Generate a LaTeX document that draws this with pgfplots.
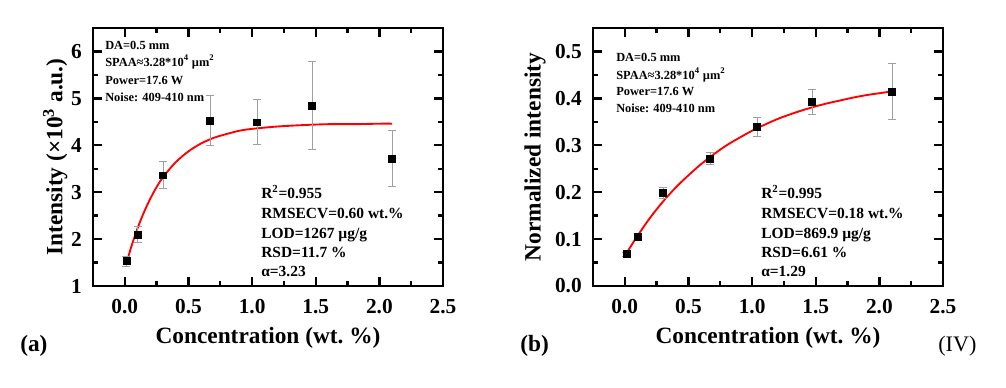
\documentclass[border=0pt]{standalone}
\usepackage{pgfplots}
\pgfplotsset{compat=1.18}
\usepackage{pgfplotstable}
\usepackage{fontspec}
\setmainfont{Liberation Serif}

\pgfplotstableread{
x y e
0.013 1.53 0.11
0.10 2.10 0.17
0.30 3.36 0.29
0.67 4.53 0.53
1.04 4.49 0.48
1.47 4.85 0.94
2.10 3.72 0.60
}\dataA

\pgfplotstableread{
x y e
0.013 0.068 0.004
0.10 0.105 0.004
0.30 0.199 0.012
0.67 0.272 0.012
1.04 0.339 0.021
1.47 0.393 0.027
2.10 0.415 0.059
}\dataB

\pgfplotsset{
 myaxis/.style={
  scale only axis, width=262.5pt, height=193.5pt,
  axis line style={line width=2.1pt},
  tick style={line width=1.8pt, black},
  major tick length=6.75pt, minor tick length=3.4pt,
  tick align=inside,
  xmin=-0.25, xmax=2.5,
  xtick={0,0.5,1,1.5,2,2.5},
  xticklabels={0.0,0.5,1.0,1.5,2.0,2.5},
  minor x tick num=1,
  minor y tick num=1,
  xticklabel style={font=\fontsize{16}{16}\selectfont\bfseries, anchor=base, yshift=-20.5pt, inner sep=0pt},
  yticklabel style={font=\fontsize{16}{16}\selectfont\bfseries, anchor=east, xshift=-8.25pt, inner sep=0pt},
  xlabel={Concentration (wt.\ \%)},
  xlabel style={font=\fontsize{17.5}{17.5}\selectfont\bfseries, at={(rel axis cs:0.5,0)}, anchor=base, yshift=-43.5pt, inner sep=0pt},
  error bars/error bar style={gray!75, line width=0.6pt},
  error bars/error mark options={rotate=90, gray!75, mark size=3pt, line width=0.6pt},
 },
 datastyle/.style={only marks, mark=square*, mark size=2.6pt, black, mark options={black},
   error bars/y dir=both, error bars/y explicit},
 fitstyle/.style={red, line width=1.4pt, smooth, no marks},
}

\newcommand{\tl}{\fontsize{9.3}{9.3}\selectfont\bfseries}
\newcommand{\bl}{\fontsize{11.6}{11.6}\selectfont\bfseries}

\begin{document}
\begin{tikzpicture}
\useasboundingbox (0,0) rectangle (754.5pt,291pt);

\begin{axis}[myaxis, at={(69.75pt,76.5pt)}, anchor=south west,
  ymin=1, ymax=6.5, ytick={1,2,3,4,5,6}, yticklabels={1,2,3,4,5,6},
  ylabel={Intensity (×10\textsuperscript{3} a.u.)},
  ylabel style={font=\fontsize{17.5}{17.5}\selectfont\bfseries, at={(rel axis cs:-0.108,0.5)}, anchor=center, inner sep=0pt},
]
\addplot[fitstyle] coordinates {
(0.013,1.48) (0.05,1.83) (0.1,2.23) (0.15,2.57) (0.2,2.86) (0.25,3.11) (0.3,3.32)
(0.4,3.64) (0.5,3.87) (0.6,4.04) (0.7,4.16) (0.8,4.24) (0.9,4.31) (1.0,4.35)
(1.2,4.40) (1.4,4.43) (1.6,4.45) (1.8,4.45) (2.0,4.46) (2.1,4.46)};
\addplot[datastyle] table[x=x, y=y, y error=e] {\dataA};
\node[anchor=base west, font=\tl, inner sep=0pt] at (rel axis cs:0.0343,0.9186) {DA=0.5 mm};
\node[anchor=base west, font=\tl, inner sep=0pt] at (rel axis cs:0.0343,0.8527) {SPAA≈3.28*10\textsuperscript{4} µm\textsuperscript{2}};
\node[anchor=base west, font=\tl, inner sep=0pt] at (rel axis cs:0.0343,0.7829) {Power=17.6 W};
\node[anchor=base west, font=\tl, inner sep=0pt] at (rel axis cs:0.0343,0.717) {Noise: 409-410 nm};
\node[anchor=base west, font=\bl, inner sep=0pt] at (rel axis cs:0.48,0.340) {R\textsuperscript{2}=0.955};
\node[anchor=base west, font=\bl, inner sep=0pt] at (rel axis cs:0.48,0.262) {RMSECV=0.60 wt.\%};
\node[anchor=base west, font=\bl, inner sep=0pt] at (rel axis cs:0.48,0.185) {LOD=1267 µg/g};
\node[anchor=base west, font=\bl, inner sep=0pt] at (rel axis cs:0.48,0.110) {RSD=11.7 \%};
\node[anchor=base west, font=\bl, inner sep=0pt] at (rel axis cs:0.48,0.036) {α=3.23};
\end{axis}

\begin{axis}[myaxis, at={(444.75pt,76.5pt)}, anchor=south west,
  ymin=0, ymax=0.55, ytick={0,0.1,0.2,0.3,0.4,0.5}, yticklabels={0.0,0.1,0.2,0.3,0.4,0.5},
  ylabel={Normalized intensity},
  ylabel style={font=\fontsize{17.5}{17.5}\selectfont\bfseries, at={(rel axis cs:-0.1657,0.5)}, anchor=center, inner sep=0pt},
]
\addplot[fitstyle] coordinates {
(0.013,0.070) (0.1,0.107) (0.2,0.146) (0.3,0.180) (0.4,0.210) (0.5,0.236) (0.6,0.260)
(0.7,0.281) (0.8,0.300) (0.9,0.316) (1.0,0.331) (1.1,0.344) (1.2,0.356) (1.3,0.366)
(1.4,0.375) (1.5,0.383) (1.6,0.390) (1.7,0.396) (1.8,0.402) (1.9,0.407) (2.0,0.411) (2.1,0.415)};
\addplot[datastyle] table[x=x, y=y, y error=e] {\dataB};
\node[anchor=base west, font=\tl, inner sep=0pt] at (rel axis cs:0.0657,0.869) {DA=0.5 mm};
\node[anchor=base west, font=\tl, inner sep=0pt] at (rel axis cs:0.0657,0.802) {SPAA≈3.28*10\textsuperscript{4} µm\textsuperscript{2}};
\node[anchor=base west, font=\tl, inner sep=0pt] at (rel axis cs:0.0657,0.740) {Power=17.6 W};
\node[anchor=base west, font=\tl, inner sep=0pt] at (rel axis cs:0.0657,0.674) {Noise: 409-410 nm};
\node[anchor=base west, font=\bl, inner sep=0pt] at (rel axis cs:0.48,0.340) {R\textsuperscript{2}=0.995};
\node[anchor=base west, font=\bl, inner sep=0pt] at (rel axis cs:0.48,0.262) {RMSECV=0.18 wt.\%};
\node[anchor=base west, font=\bl, inner sep=0pt] at (rel axis cs:0.48,0.185) {LOD=869.9 µg/g};
\node[anchor=base west, font=\bl, inner sep=0pt] at (rel axis cs:0.48,0.110) {RSD=6.61 \%};
\node[anchor=base west, font=\bl, inner sep=0pt] at (rel axis cs:0.48,0.036) {α=1.29};
\end{axis}

\node[anchor=base west, inner sep=0pt, font=\fontsize{17.5}{17.5}\selectfont\bfseries] at (15pt,27pt) {(a)};
\node[anchor=base west, inner sep=0pt, font=\fontsize{17.5}{17.5}\selectfont\bfseries] at (390pt,27pt) {(b)};
\node[anchor=base west, inner sep=0pt, font=\fontsize{16.6}{16.6}\selectfont] at (703.5pt,27pt) {(IV)};
\end{tikzpicture}
\end{document}
